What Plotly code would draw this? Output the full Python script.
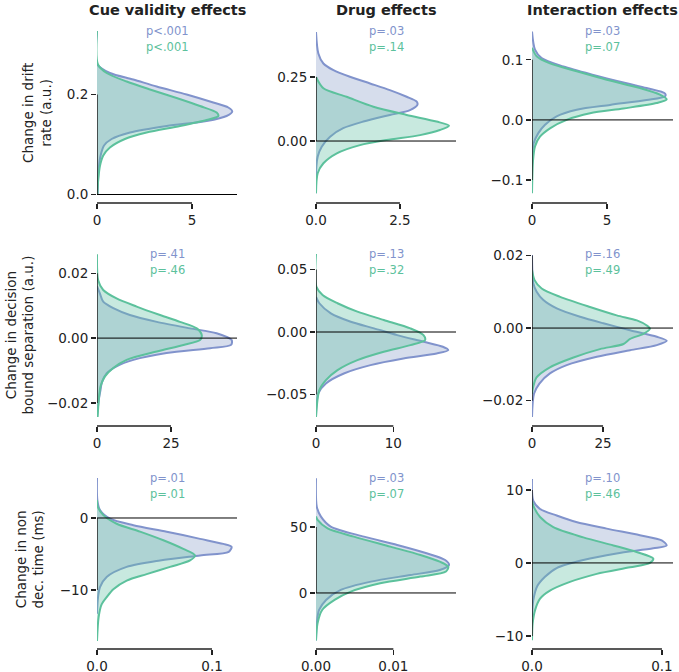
import plotly.graph_objects as go

BLUE_LINE = "#8193cc"
GREEN_LINE = "#5cc19c"
BLUE_FILL = "rgba(141,160,203,0.36)"
GREEN_FILL = "rgba(102,194,165,0.36)"
FONT = "DejaVu Sans"
INK = "#222222"

col_titles = ["Cue validity effects", "Drug effects", "Interaction effects"]
row_titles = ["Change in drift<br>rate (a.u.)",
              "Change in decision<br>bound separation (a.u.)",
              "Change in non<br>dec. time (ms)"]

# p-values (blue, green) per panel, row-major
p_blue = ["p<.001", "p=.03", "p=.03", "p=.41", "p=.13", "p=.16", "p=.01", "p=.03", "p=.10"]
p_green = ["p<.001", "p=.14", "p=.07", "p=.46", "p=.32", "p=.49", "p=.01", "p=.07", "p=.46"]

# ---- Row 1: drift rate ----
drift_cue_blue_y = [0.327, 0.26, 0.243, 0.230, 0.216, 0.200, 0.184, 0.174, 0.166, 0.157, 0.147, 0.137, 0.124, 0.111, 0.098, 0.078, 0.052, 0.0]
drift_cue_blue_d = [0, 0.02, 0.68, 1.91, 3.14, 4.72, 6.12, 6.91, 7.12, 6.82, 5.77, 3.67, 1.74, 0.77, 0.37, 0.19, 0.09, 0.03]
drift_cue_green_y = [0.327, 0.26, 0.243, 0.226, 0.210, 0.193, 0.177, 0.164, 0.157, 0.149, 0.137, 0.124, 0.111, 0.094, 0.078, 0.058, 0.032, 0.0]
drift_cue_green_d = [0, 0.05, 0.51, 1.56, 2.79, 4.19, 5.42, 6.30, 6.39, 5.77, 4.37, 2.61, 1.47, 0.68, 0.33, 0.16, 0.07, 0.02]

drift_drug_blue_y = [0.426, 0.342, 0.303, 0.277, 0.251, 0.225, 0.199, 0.173, 0.154, 0.141, 0.121, 0.102, 0.076, 0.050, 0.017, -0.022, -0.061, -0.100, -0.204]
drift_drug_blue_d = [0, 0.07, 0.22, 0.52, 1.01, 1.61, 2.20, 2.70, 3.00, 3.02, 2.80, 2.20, 1.41, 0.81, 0.42, 0.17, 0.05, 0.01, 0]
drift_drug_green_y = [0.25, 0.206, 0.173, 0.134, 0.102, 0.076, 0.060, 0.043, 0.023, 0.004, -0.016, -0.048, -0.087, -0.126, -0.204]
drift_drug_green_d = [0, 0.22, 0.91, 1.71, 2.70, 3.59, 3.96, 3.69, 3.10, 2.10, 1.31, 0.62, 0.22, 0.05, 0]

drift_int_blue_y = [0.147, 0.117, 0.103, 0.089, 0.075, 0.061, 0.053, 0.044, 0.039, 0.033, 0.025, 0.017, 0.006, -0.008, -0.022, -0.039, -0.061, -0.089]
drift_int_blue_d = [0, 0.2, 0.64, 2.09, 4.09, 6.31, 7.64, 8.87, 8.87, 7.64, 5.2, 2.98, 1.64, 0.87, 0.42, 0.11, 0.02, 0]
drift_int_green_y = [0.12, 0.106, 0.094, 0.081, 0.067, 0.053, 0.042, 0.034, 0.028, 0.019, 0.011, 0.0, -0.014, -0.028, -0.044, -0.067, -0.122]
drift_int_green_d = [0, 0.31, 1.2, 2.98, 4.98, 7.2, 8.53, 8.98, 8.31, 6.09, 3.87, 2.31, 1.2, 0.53, 0.2, 0.07, 0]

# ---- Row 2: bound separation ----
bound_cue_blue_y = [0.016, 0.0137, 0.0112, 0.0092, 0.0071, 0.0050, 0.0030, 0.0015, -0.0006, -0.0021, -0.0031, -0.0046, -0.0067, -0.0087, -0.0108, -0.0138, -0.0159, -0.019, -0.0243]
bound_cue_blue_d = [0, 1.0, 2.1, 5.5, 11.1, 20.2, 31.4, 40.4, 45.5, 45.3, 38.2, 23.5, 12.3, 6.6, 3.3, 1.6, 1.2, 0.6, 0.0]
bound_cue_green_y = [0.0258, 0.0178, 0.0148, 0.0122, 0.0097, 0.0071, 0.0050, 0.0030, 0.0009, -0.0006, -0.0021, -0.0041, -0.0067, -0.0092, -0.0118, -0.0148, -0.019, -0.0243]
bound_cue_green_d = [0, 0.4, 2.1, 6.6, 13.4, 21.3, 28.0, 33.7, 35.4, 34.8, 29.2, 20.2, 10.0, 5.5, 2.7, 1.2, 0.6, 0.2]

bound_drug_blue_y = [0.028, 0.023, 0.0149, 0.0082, 0.0029, -0.0025, -0.0078, -0.0118, -0.0145, -0.0172, -0.0212, -0.0265, -0.0332, -0.0412, -0.049, -0.060, -0.068]
bound_drug_blue_d = [0, 0.43, 1.92, 4.49, 7.5, 10.5, 13.9, 16.4, 17.1, 15.6, 11.3, 7.05, 3.6, 1.28, 0.3, 0.05, 0]
bound_drug_green_y = [0.0624, 0.0363, 0.0296, 0.023, 0.0163, 0.0096, 0.0029, -0.0025, -0.0065, -0.0105, -0.0158, -0.0225, -0.0305, -0.0385, -0.0465, -0.068]
bound_drug_green_d = [0, 0.04, 0.85, 2.78, 5.35, 8.76, 12.2, 13.9, 14.1, 12.2, 8.76, 5.35, 2.78, 1.28, 0.43, 0]

bound_int_blue_y = [0.0201, 0.0123, 0.0100, 0.0077, 0.0054, 0.0031, 0.0013, -0.0006, -0.0024, -0.0035, -0.0047, -0.0061, -0.0079, -0.0102, -0.0125, -0.0153, -0.0181, -0.0245]
bound_int_blue_d = [0, 0.47, 1.64, 4.0, 8.7, 16.9, 25.1, 34.5, 43.9, 47.4, 43.9, 34.5, 22.8, 12.2, 6.3, 2.6, 0.7, 0]
bound_int_green_y = [0.016, 0.0132, 0.0109, 0.0086, 0.0058, 0.0035, 0.0021, 0.0007, -0.0002, -0.0016, -0.003, -0.0044, -0.0058, -0.0081, -0.0108, -0.0136, -0.0163, -0.0181]
bound_int_green_d = [0, 0.9, 3.4, 9.9, 20.4, 29.8, 36.9, 40.4, 41.5, 39.2, 34.5, 32.2, 23.9, 14.6, 6.3, 1.6, 0.4, 0]

# ---- Row 3: non-decision time ----
ndt_cue_blue_y = [5.56, 2.5, 1.1, -0.1, -1.0, -1.9, -2.9, -3.6, -4.0, -4.7, -5.2, -5.9, -6.8, -8.2, -9.6, -11.0, -13.3]
ndt_cue_blue_d = [0, 0.0003, 0.0026, 0.0113, 0.0316, 0.0606, 0.0896, 0.1098, 0.117, 0.1145, 0.0896, 0.0548, 0.0258, 0.0084, 0.0026, 0.0009, 0]
ndt_cue_green_y = [2.5, 1.6, 0.4, -0.8, -1.9, -3.1, -4.3, -5.2, -5.9, -6.8, -7.8, -8.7, -9.9, -11.0, -12.0, -13.8, -17.1]
ndt_cue_green_d = [0, 0.0006, 0.0055, 0.0171, 0.0374, 0.0577, 0.075, 0.0852, 0.0809, 0.0635, 0.0432, 0.0258, 0.0142, 0.0084, 0.004, 0.0014, 0]

ndt_drug_blue_y = [87, 65.4, 57.8, 50.3, 42.7, 36.4, 30.1, 25.0, 21.2, 17.4, 13.6, 8.6, 2.3, -5.3, -12.9, -23, -36]
ndt_drug_blue_d = [0, 0.0001, 0.00064, 0.0019, 0.0062, 0.0105, 0.0143, 0.0167, 0.0172, 0.016, 0.0122, 0.0071, 0.0032, 0.0013, 0.0004, 0.0001, 0]
ndt_drug_green_y = [58, 55.3, 48.9, 42.7, 35.1, 28.8, 23.7, 19.9, 16.2, 12.4, 7.3, 1.0, -5.3, -12.9, -23, -36]
ndt_drug_green_d = [0, 0.0002, 0.0015, 0.0049, 0.0096, 0.0135, 0.016, 0.0171, 0.0168, 0.0135, 0.0083, 0.0045, 0.0024, 0.0008, 0.0002, 0]

ndt_int_blue_y = [11.5, 8.5, 7.4, 6.5, 5.6, 4.7, 3.8, 3.1, 2.4, 2.0, 1.3, 0.4, -0.7, -1.9, -3.2, -5.1, -7.4]
ndt_int_blue_d = [0, 0.001, 0.0062, 0.019, 0.034, 0.0575, 0.083, 0.0998, 0.1036, 0.0933, 0.0651, 0.0395, 0.019, 0.01, 0.004, 0.001, 0]
ndt_int_green_y = [8.5, 7.6, 6.3, 4.9, 3.5, 2.4, 1.5, 0.6, 0.0, -0.6, -1.5, -2.6, -3.8, -4.9, -6.5, -8.3, -10.6]
ndt_int_green_d = [0, 0.0016, 0.0062, 0.0164, 0.0395, 0.0626, 0.0805, 0.0933, 0.0908, 0.0754, 0.0498, 0.0292, 0.0138, 0.0062, 0.0023, 0.0005, 0]

# ---- tick values / labels ----
y_tickvals = [[0.0, 0.2], [0.0, 0.25], [-0.1, 0.0, 0.1],
              [-0.02, 0.0, 0.02], [-0.05, 0.0, 0.05], [-0.02, 0.0, 0.02],
              [-10, 0], [0, 50], [-10, 0, 10]]
y_ticktext = [["0.0", "0.2"], ["0.00", "0.25"], ["\u22120.1", "0.0", "0.1"],
              ["\u22120.02", "0.00", "0.02"], ["\u22120.05", "0.00", "0.05"], ["\u22120.02", "0.00", "0.02"],
              ["\u221210", "0"], ["0", "50"], ["\u221210", "0", "10"]]
x_tickvals = [[0, 5], [0, 2.5], [0, 5],
              [0, 25], [0, 10], [0, 25],
              [0, 0.1], [0, 0.01], [0, 0.1]]
x_ticktext = [["0", "5"], ["0.0", "2.5"], ["0", "5"],
              ["0", "25"], ["0", "10"], ["0", "25"],
              ["0.0", "0.1"], ["0.00", "0.01"], ["0.0", "0.1"]]

# axis view ranges (layout)
x_ranges = [[0, 7.37], [0, 4.17], [0, 9.4],
            [0, 47.3], [0, 18.1], [0, 49.6],
            [0, 0.1217], [0, 0.0181], [0, 0.1085]]
y_ranges = [[-0.001, 0.327], [-0.211, 0.430], [-0.125, 0.148],
            [-0.0243, 0.0259], [-0.068, 0.0624], [-0.0245, 0.0204],
            [-17.1, 5.56], [-36.4, 87.1], [-10.7, 11.64]]

panels = [
    (drift_cue_blue_y, drift_cue_blue_d, drift_cue_green_y, drift_cue_green_d),
    (drift_drug_blue_y, drift_drug_blue_d, drift_drug_green_y, drift_drug_green_d),
    (drift_int_blue_y, drift_int_blue_d, drift_int_green_y, drift_int_green_d),
    (bound_cue_blue_y, bound_cue_blue_d, bound_cue_green_y, bound_cue_green_d),
    (bound_drug_blue_y, bound_drug_blue_d, bound_drug_green_y, bound_drug_green_d),
    (bound_int_blue_y, bound_int_blue_d, bound_int_green_y, bound_int_green_d),
    (ndt_cue_blue_y, ndt_cue_blue_d, ndt_cue_green_y, ndt_cue_green_d),
    (ndt_drug_blue_y, ndt_drug_blue_d, ndt_drug_green_y, ndt_drug_green_d),
    (ndt_int_blue_y, ndt_int_blue_d, ndt_int_green_y, ndt_int_green_d),
]

W, H = 679, 672
col_px = [(97, 237), (316, 456), (532, 673)]
row_px = [(31, 195), (254, 417), (478, 641)]
x_spine_px = [203, 426, 649]
row_title_x = [37, 20, 29]

fig = go.Figure()
layout = dict(template="none", width=W, height=H, autosize=False,
              margin=dict(l=0, r=0, t=0, b=0, pad=0),
              plot_bgcolor="white", paper_bgcolor="white", showlegend=False,
              font=dict(family=FONT, color=INK, size=13))
shapes = []
annotations = []

for i, (by, bd, gy, gd) in enumerate(panels):
    r, c = divmod(i, 3)
    k = i + 1
    xs = "x" if k == 1 else f"x{k}"
    ys = "y" if k == 1 else f"y{k}"
    for yy, dd, fc, lc in ((by, bd, BLUE_FILL, BLUE_LINE), (gy, gd, GREEN_FILL, GREEN_LINE)):
        fig.add_trace(go.Scatter(x=dd, y=yy, mode="lines", fill="tozerox", fillcolor=fc,
                                 line=dict(color=lc, width=2, shape="spline", smoothing=0.8),
                                 xaxis=xs, yaxis=ys, hoverinfo="skip"))
    x0, x1 = col_px[c]
    yt, yb = row_px[r]
    xdom = [x0 / W, x1 / W]
    ydom = [1 - yb / H, 1 - yt / H]
    pos = 1 - x_spine_px[r] / H
    layout["xaxis" if k == 1 else f"xaxis{k}"] = dict(
        domain=xdom, range=x_ranges[i], anchor="free", position=pos, automargin=False,
        tickvals=x_tickvals[i], ticktext=x_ticktext[i], ticks="outside", ticklen=5,
        tickwidth=1.25, tickcolor=INK, showline=False, showgrid=False, zeroline=False,
        tickfont=dict(size=13.5, family=FONT, color=INK), fixedrange=True)
    layout["yaxis" if k == 1 else f"yaxis{k}"] = dict(
        domain=ydom, range=y_ranges[i], anchor=xs, automargin=False,
        tickvals=y_tickvals[i], ticktext=y_ticktext[i], ticks="outside", ticklen=5,
        tickwidth=1.25, tickcolor=INK, showline=False, showgrid=False, zeroline=False,
        tickfont=dict(size=13.5, family=FONT, color=INK), fixedrange=True)
    # trimmed y spine
    shapes.append(dict(type="line", xref=xs, yref=ys, x0=0, x1=0,
                       y0=min(y_tickvals[i]), y1=max(y_tickvals[i]),
                       line=dict(color=INK, width=1.5), layer="above"))
    # trimmed, offset x spine
    shapes.append(dict(type="line", xref=xs, yref="paper", x0=0, x1=max(x_tickvals[i]),
                       y0=pos, y1=pos, line=dict(color=INK, width=1.5), layer="above"))
    # zero reference line
    shapes.append(dict(type="line", xref=f"{xs} domain", yref=ys, x0=0, x1=1, y0=0, y1=0,
                       line=dict(color="black", width=1), layer="above"))
    # p-values
    cx = (x0 + x1) / 2 / W
    annotations.append(dict(x=cx, y=1 - yt / H, xref="paper", yref="paper", text=p_blue[i],
                            showarrow=False, xanchor="center", yanchor="middle",
                            font=dict(size=11.5, color=BLUE_LINE, family=FONT)))
    annotations.append(dict(x=cx, y=1 - (yt + 16) / H, xref="paper", yref="paper", text=p_green[i],
                            showarrow=False, xanchor="center", yanchor="middle",
                            font=dict(size=11.5, color=GREEN_LINE, family=FONT)))

for c, t in enumerate(col_titles):
    x0, x1 = col_px[c]
    annotations.append(dict(x=(x0 + x1) / 2 / W, y=1 - 10 / H, xref="paper", yref="paper",
                            text=f"<b>{t}</b>", showarrow=False, xanchor="center", yanchor="middle",
                            font=dict(size=14.5, family=FONT, color=INK)))

for r, t in enumerate(row_titles):
    yt, yb = row_px[r]
    annotations.append(dict(x=row_title_x[r] / W, y=1 - (yt + yb) / 2 / H, xref="paper", yref="paper",
                            text=t, showarrow=False, textangle=-90, xanchor="center", yanchor="middle",
                            font=dict(size=13.5, family=FONT, color=INK)))

layout["shapes"] = shapes
layout["annotations"] = annotations
fig.update_layout(**layout)
fig.write_html("out.html", config={"displayModeBar": False, "staticPlot": True},
               post_script="document.body.style.margin='0';document.body.style.overflow='hidden';")
